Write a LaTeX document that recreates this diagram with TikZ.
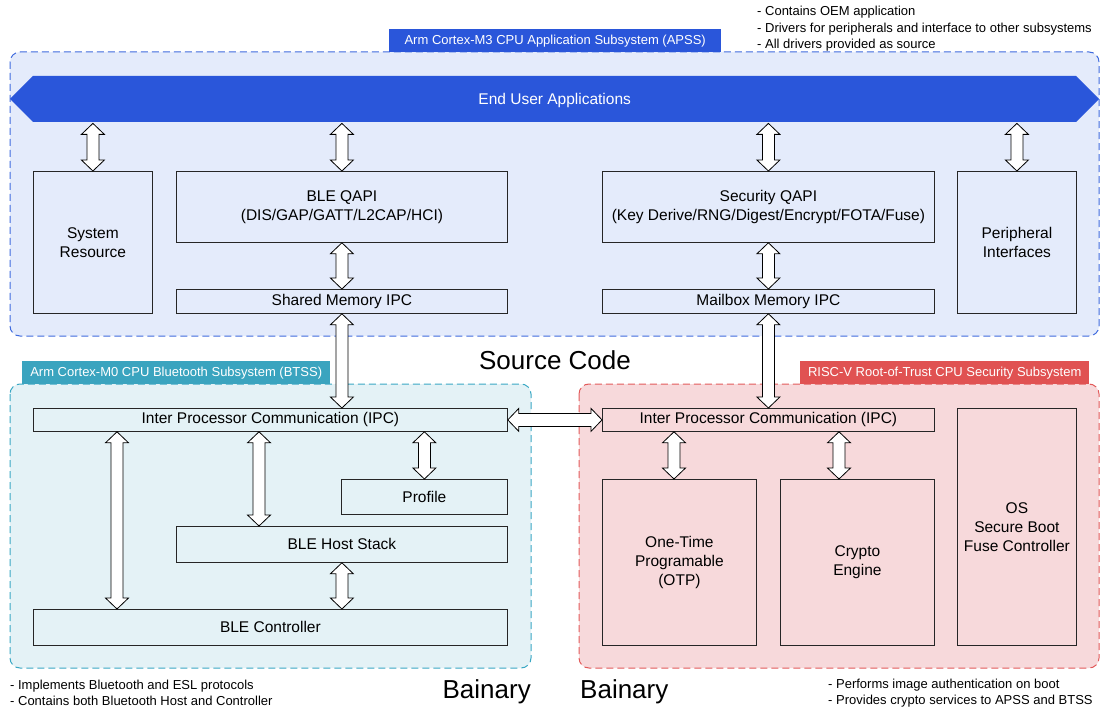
\documentclass[tikz,border=0pt]{standalone}
\usepackage{fontspec}
\setmainfont{Liberation Sans}
\usetikzlibrary{calc}
\definecolor{apssfill}{HTML}{E4EBFB}
\definecolor{apssline}{HTML}{3F6BDE}
\definecolor{apsslbl}{HTML}{2A56DA}
\definecolor{bandcol}{HTML}{2A56DA}
\definecolor{btssfill}{HTML}{E4F2F6}
\definecolor{btssline}{HTML}{3AA8C4}
\definecolor{btsslbl}{HTML}{3AA4BF}
\definecolor{rotfill}{HTML}{F7D9DB}
\definecolor{rotline}{HTML}{E25A5A}
\definecolor{rotlbl}{HTML}{E05252}
\definecolor{boxline}{HTML}{262626}
\tikzset{
  blk/.style={draw=boxline, line width=0.8pt, rectangle, inner sep=0pt, anchor=north west,
    align=center, font=\fontsize{15.5}{19}\selectfont},
  cont/.style={dash pattern=on 7pt off 4pt, line width=1pt, rounded corners=10pt},
  lbl/.style={text=white, font=\fontsize{13}{15}\selectfont, inner sep=0pt, anchor=north west},
  barrow/.style={draw=black, fill=white, line width=0.8pt, line join=miter},
  note/.style={font=\fontsize{13}{16.5}\selectfont, align=left, inner sep=0pt, anchor=west},
  big/.style={font=\fontsize{26}{30}\selectfont, inner sep=0pt},
}
\newcommand\varr[2]{%
  \path[barrow] let \p1=(#1), \p2=(#2) in
    (\x1,\y1) -- (\x1+11.5pt,\y1-11pt) -- (\x1+6pt,\y1-11pt) -- (\x1+6pt,\y2+11pt)
    -- (\x1+11.5pt,\y2+11pt) -- (\x1,\y2) -- (\x1-11.5pt,\y2+11pt) -- (\x1-6pt,\y2+11pt)
    -- (\x1-6pt,\y1-11pt) -- (\x1-11.5pt,\y1-11pt) -- cycle;}
\newcommand\harr[2]{%
  \path[barrow] let \p1=(#1), \p2=(#2) in
    (\x1,\y1) -- (\x1+11pt,\y1+11.5pt) -- (\x1+11pt,\y1+6.5pt) -- (\x2-11pt,\y1+6.5pt)
    -- (\x2-11pt,\y1+11.5pt) -- (\x2,\y1) -- (\x2-11pt,\y1-11.5pt) -- (\x2-11pt,\y1-6.5pt)
    -- (\x1+11pt,\y1-6.5pt) -- (\x1+11pt,\y1-11.5pt) -- cycle;}
\begin{document}
\begin{tikzpicture}[x=1pt,y=-1pt]
\useasboundingbox (0,0) rectangle (1100,711);

% containers
\draw[cont, draw=apssline, fill=apssfill] (10,52) rectangle (1099,336);
\draw[cont, draw=btssline, fill=btssfill] (10,384) rectangle (531,668);
\draw[cont, draw=rotline, fill=rotfill] (579,384) rectangle (1099,668);

% labels
\node[lbl, fill=apsslbl, minimum width=332pt, minimum height=23pt] (apsslab) at (389,29) {Arm Cortex-M3 CPU Application Subsystem (APSS)};
\node[lbl, fill=btsslbl, minimum width=308pt, minimum height=23pt] (btsslab) at (22,361) {Arm Cortex-M0 CPU Bluetooth Subsystem (BTSS)};
\node[lbl, fill=rotlbl, minimum width=289pt, minimum height=23pt] (rotlab) at (800,361) {RISC-V Root-of-Trust CPU Security Subsystem};

% band
\fill[bandcol] (10,99) -- (33,76) -- (1076,76) -- (1099,99) -- (1076,122) -- (33,122) -- cycle;
\node[anchor=north west, inner sep=0pt, minimum width=1043pt, minimum height=46pt, text=white,
  font=\fontsize{15.5}{19}\selectfont] (eua) at (33,77) {End User Applications};

% APSS boxes
\node[blk, minimum width=119pt, minimum height=142pt] (sysres) at (33,171) {System\\Resource};
\node[blk, minimum width=331pt, minimum height=71pt] (bleqapi) at (176,171) {BLE QAPI\\(DIS/GAP/GATT/L2CAP/HCI)};
\node[blk, minimum width=331pt, minimum height=24pt] (smipc) at (176,289) {Shared Memory IPC};
\node[blk, minimum width=332pt, minimum height=71pt] (secqapi) at (602,171) {Security QAPI\\(Key Derive/RNG/Digest/Encrypt/FOTA/Fuse)};
\node[blk, minimum width=332pt, minimum height=24pt] (mbipc) at (602,289) {Mailbox Memory IPC};
\node[blk, minimum width=119pt, minimum height=142pt] (periph) at (957,171) {Peripheral\\Interfaces};

% BTSS boxes
\node[blk, minimum width=474pt, minimum height=23pt] (ipc1) at (33,408) {Inter Processor Communication (IPC)};
\node[blk, minimum width=166pt, minimum height=35pt] (profile) at (341,479) {Profile};
\node[blk, minimum width=331pt, minimum height=36pt] (hoststack) at (176,526) {BLE Host Stack};
\node[blk, minimum width=474pt, minimum height=36pt] (blectrl) at (33,609) {BLE Controller};

% RoT boxes
\node[blk, minimum width=332pt, minimum height=23pt] (ipc2) at (602,408) {Inter Processor Communication (IPC)};
\node[blk, minimum width=154pt, minimum height=166pt] (otp) at (602,479) {One-Time\\Programable\\(OTP)};
\node[blk, minimum width=154pt, minimum height=166pt] (crypto) at (780,479) {Crypto\\Engine};
\node[blk, minimum width=119pt, minimum height=237pt] (os) at (957,408) {OS\\Secure Boot\\Fuse Controller};

% arrows APSS
\varr{eua.south -| sysres.north}{sysres.north}
\varr{eua.south -| bleqapi.north}{bleqapi.north}
\varr{eua.south -| secqapi.north}{secqapi.north}
\varr{eua.south -| periph.north}{periph.north}
\varr{bleqapi.south}{smipc.north}
\varr{secqapi.south}{mbipc.north}
\varr{smipc.south}{smipc.south |- ipc1.north}
\varr{mbipc.south}{mbipc.south |- ipc2.north}

% arrows BTSS
\varr{[xshift=84pt]ipc1.south west}{[xshift=84pt]blectrl.north west}
\varr{[xshift=226pt]ipc1.south west}{[xshift=83pt]hoststack.north west}
\varr{profile.north |- ipc1.south}{profile.north}
\varr{hoststack.south}{hoststack.south |- blectrl.north}

% arrows RoT
\varr{[xshift=72pt]ipc2.south west}{[xshift=72pt]otp.north west}
\varr{[xshift=237pt]ipc2.south west}{[xshift=59pt]crypto.north west}

% horizontal
\harr{ipc1.east}{ipc2.west}

% texts
\node[note] (oemnote) at (757,29) {- Contains OEM application\\- Drivers for peripherals and interface to other subsystems\\- All drivers provided as source};
\node[note] (btnote) at (10,693) {- Implements Bluetooth and ESL protocols\\- Contains both Bluetooth Host and Controller};
\node[note] (rotnote) at (828,693) {- Performs image authentication on boot\\- Provides crypto services to APSS and BTSS};
\node[big] (src) at (555,360) {Source Code};
\node[big, anchor=east] (bin1) at (531,692) {Bainary};
\node[big, anchor=west] (bin2) at (580,692) {Bainary};
\end{tikzpicture}
\end{document}
